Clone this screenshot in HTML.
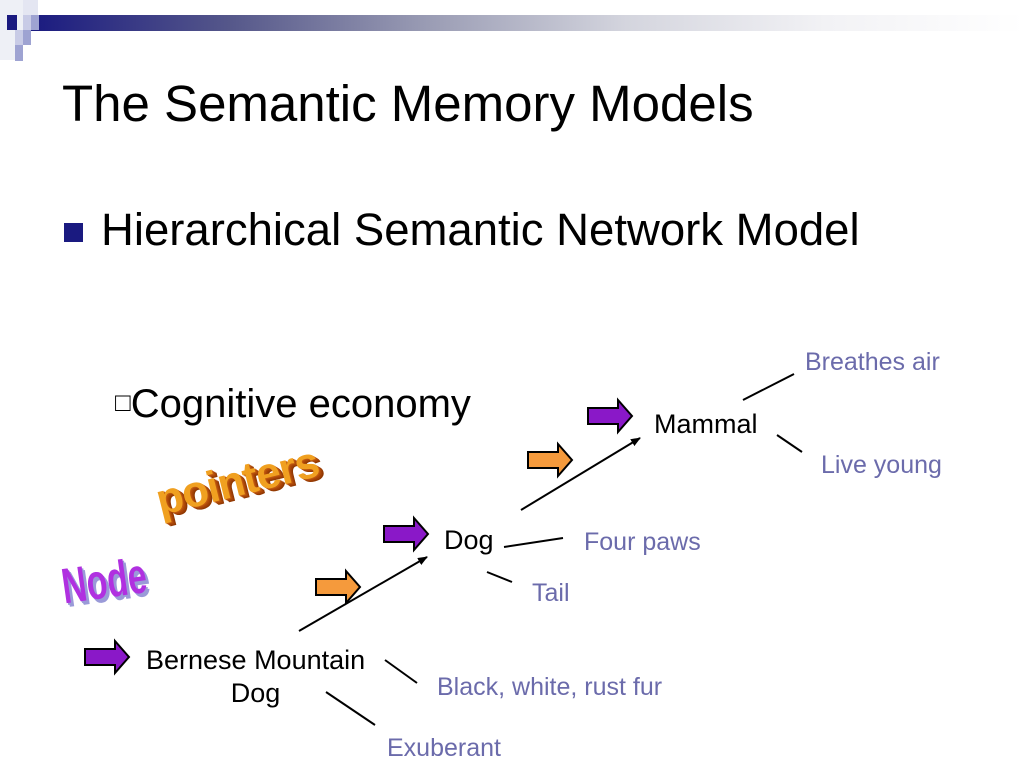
<!DOCTYPE html>
<html><head><meta charset="utf-8"><style>
body{margin:0;width:1024px;height:768px;background:#fff;position:relative;overflow:hidden;font-family:"Liberation Sans",sans-serif}
.a{position:absolute}
.t{position:absolute;white-space:nowrap}
.b{color:#6b6bab;font-size:25px}
</style></head><body>
<div class="a" style="left:30px;top:15px;width:994px;height:16px;background:linear-gradient(90deg,#1a1a80 0%,#55578a 20%,#9a9cb4 40%,#d4d5de 60%,#f2f2f5 80%,#fff 100%)"></div>
<div class="a" style="left:0;top:0;width:23px;height:60px;background:#eef0f6"></div>
<div class="a" style="left:23px;top:0;width:15px;height:15px;background:#e4e6f2"></div>
<div class="a" style="left:7px;top:15px;width:10px;height:15px;background:#1a1a80"></div>
<div class="a" style="left:23px;top:15px;width:8px;height:15px;background:#c8cbe6"></div>
<div class="a" style="left:31px;top:15px;width:8px;height:15px;background:#9ea3d2"></div>
<div class="a" style="left:15px;top:30px;width:8px;height:15px;background:#c8cbe6"></div>
<div class="a" style="left:23px;top:30px;width:8px;height:15px;background:#9ea3d2"></div>
<div class="a" style="left:15px;top:45px;width:8px;height:16px;background:#9ea3d2"></div>
<div class="t" style="left:62px;top:74px;font-size:51px;color:#000">The Semantic Memory Models</div>
<div class="a" style="left:64px;top:223px;width:19px;height:19px;background:#1a1a80"></div>
<div class="t" style="left:101px;top:204px;font-size:45.5px">Hierarchical Semantic Network Model</div>
<div class="t" style="left:115px;top:382px;font-size:40px"><span style="font-size:26px;vertical-align:6px">□</span>Cognitive economy</div>
<div class="t" style="left:163px;top:476px;font-size:44px;font-weight:bold;color:#f0a020;transform:rotate(-14deg);transform-origin:left bottom;text-shadow:1px 1px 0 #c05a10,2px 2px 0 #b04a08,3px 3px 0 #a04008,4px 4px 0 #903800;letter-spacing:-1px">pointers</div>
<div class="t" style="left:58px;top:558px;font-size:50px;font-weight:bold;color:#b030e0;transform:rotate(-8deg) scaleX(0.68);transform-origin:left top;text-shadow:2px 2px 0 #9a9ad8,4px 4px 0 #9a9ad8">Node</div>
<svg class="a" style="left:0;top:0" width="1024" height="768">
<defs>
<marker id="ah" markerWidth="10" markerHeight="8" refX="9" refY="4" orient="auto" markerUnits="userSpaceOnUse"><path d="M0,0L10,4L0,8Z" fill="#000"/></marker>
<g id="arr"><path d="M0,8H30V0L44,16L30,32V24H0Z" stroke="#000" stroke-width="2"/></g>
</defs>
<use href="#arr" x="85" y="641" fill="#8a18c8"/>
<use href="#arr" x="316" y="571" fill="#f59a3c"/>
<use href="#arr" x="384" y="518" fill="#8a18c8"/>
<use href="#arr" x="528" y="444" fill="#f59a3c"/>
<use href="#arr" x="588" y="400" fill="#8a18c8"/>
<g stroke="#000" stroke-width="2" fill="none">
<line x1="299" y1="631" x2="427" y2="557" marker-end="url(#ah)"/>
<line x1="521" y1="510" x2="640" y2="438" marker-end="url(#ah)"/>
<line x1="743" y1="400" x2="794" y2="374"/>
<line x1="777" y1="435" x2="802" y2="452"/>
<line x1="504" y1="547" x2="563" y2="538"/>
<line x1="487" y1="572" x2="512" y2="582"/>
<line x1="385" y1="660" x2="417" y2="683"/>
<line x1="326" y1="692" x2="375" y2="725"/>
</g>
</svg>
<div class="t" style="left:654px;top:409px;font-size:27px">Mammal</div>
<div class="t" style="left:444px;top:525px;font-size:27px">Dog</div>
<div class="t" style="left:146px;top:644px;font-size:27px;text-align:center;line-height:33px">Bernese Mountain<br>Dog</div>
<div class="t b" style="left:805px;top:348px">Breathes air</div>
<div class="t b" style="left:821px;top:451px">Live young</div>
<div class="t b" style="left:584px;top:528px">Four paws</div>
<div class="t b" style="left:532px;top:579px">Tail</div>
<div class="t b" style="left:437px;top:673px">Black, white, rust fur</div>
<div class="t b" style="left:387px;top:734px">Exuberant</div>
</body></html>
